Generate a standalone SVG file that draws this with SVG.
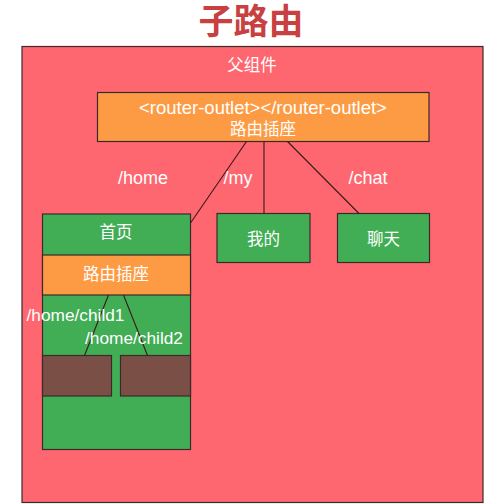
<svg xmlns="http://www.w3.org/2000/svg" width="497" height="504" viewBox="0 0 497 504">
<style>
.box{stroke:#3a2a2a;stroke-width:1.2}
.red{fill:#fe6670}
.green{fill:#41ad55}
.orange{fill:#fd9b44}
.brown{fill:#7a4f46}
.t{font-family:"Liberation Sans","Noto Sans CJK SC",sans-serif;fill:#ffffff;font-size:16.5px;text-anchor:middle;dominant-baseline:central}
.l{font-size:18px}
.c{font-size:17.3px}
.title{font-family:"Noto Sans CJK SC",sans-serif;font-weight:bold;font-size:35px;fill:#c8403f;text-anchor:middle}
.conn{stroke:#3a1a1a;stroke-width:1.1;fill:none}
</style>
<rect x="0" y="0" width="497" height="504" fill="#ffffff"/>
<text class="title" x="251" y="34">子路由</text>
<g id="parent">
<rect class="box red" x="22" y="46.5" width="461" height="456"/>
<text class="t" x="252" y="65">父组件</text>
</g>
<g id="outlet">
<rect class="box orange" x="97.5" y="92.5" width="331.5" height="49"/>
<text class="t" x="263" y="107" style="font-size:18.5px">&lt;router-outlet&gt;&lt;/router-outlet&gt;</text>
<text class="t" x="263" y="129">路由插座</text>
</g>
<g id="home">
<rect class="box green" x="42.5" y="214" width="148" height="235.5"/>
<text class="t" x="116" y="232">首页</text>
<rect class="box orange" x="42.5" y="255" width="148" height="40"/>
<text class="t" x="116" y="274">路由插座</text>
</g>
<g id="child1">
<rect class="box brown" x="42.5" y="355.5" width="69" height="40.5"/>
</g>
<g id="child2">
<rect class="box brown" x="120.5" y="355.5" width="70" height="40.5"/>
</g>
<g id="my">
<rect class="box green" x="217" y="213.5" width="93" height="49"/>
<text class="t" x="263.5" y="239">我的</text>
</g>
<g id="chat">
<rect class="box green" x="337.5" y="213.5" width="92" height="49"/>
<text class="t" x="383.5" y="239">聊天</text>
</g>
<g id="connectors">
<line class="conn" x1="246.5" y1="141.5" x2="190.5" y2="223"/>
<line class="conn" x1="264" y1="141.5" x2="264" y2="213.5"/>
<line class="conn" x1="287.5" y1="141.5" x2="359" y2="213.5"/>
<line class="conn" x1="108.5" y1="295" x2="84.5" y2="355.5"/>
<line class="conn" x1="123.5" y1="295" x2="147.5" y2="355.5"/>
<text class="t l" x="143" y="178">/home</text>
<text class="t l" x="238" y="178">/my</text>
<text class="t l" x="368" y="178">/chat</text>
<text class="t c" x="75.5" y="315">/home/child1</text>
<text class="t c" x="134" y="338">/home/child2</text>
</g>
</svg>
